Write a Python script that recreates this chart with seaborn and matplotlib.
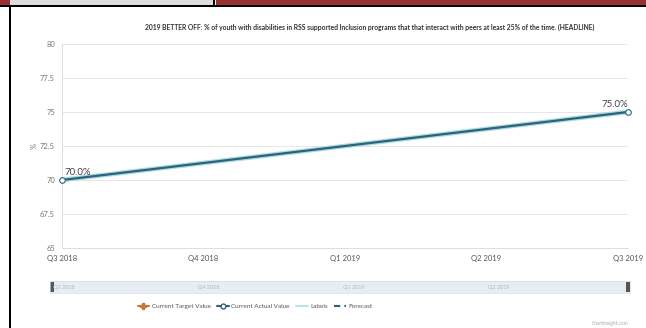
import matplotlib
matplotlib.use("Agg")
import matplotlib.pyplot as plt
import seaborn as sns
import pandas as pd
from matplotlib.lines import Line2D
from matplotlib.patches import Rectangle

quarters = ["Q3 2018", "Q4 2018", "Q1 2019", "Q2 2019", "Q3 2019"]
actual_quarters = ["Q3 2018", "Q3 2019"]
actual_values = [70.0, 75.0]
y_ticks = [65, 67.5, 70, 72.5, 75, 77.5, 80]
y_tick_labels = ["65", "67.5", "70", "72.5", "75", "77.5", "80"]
title = ("2019 BETTER OFF: % of youth with disabilities in RSS supported Inclusion programs "
         "that that interact with peers at least 25% of the time. (HEADLINE)")
legend_labels = ["Current Target Value", "Current Actual Value", "Labels", "Forecast"]

sns.set_theme(style="white")
plt.rcParams['font.family'] = ['Lato', 'DejaVu Sans']

df = pd.DataFrame({
    "pos": [quarters.index(q) for q in actual_quarters],
    "value": actual_values,
})

fig = plt.figure(figsize=(6.46, 3.28), dpi=100)
fig.patch.set_facecolor("white")

# screenshot frame decorations
fig.add_artist(Rectangle((0, 1 - 5/328), 10/646, 5/328, transform=fig.transFigure, color="#9b3030", lw=0))
fig.add_artist(Rectangle((10/646, 1 - 5/328), 204/646, 5/328, transform=fig.transFigure, color="#dcdcdc", lw=0))
fig.add_artist(Rectangle((216/646, 1 - 5/328), 430/646, 5/328, transform=fig.transFigure, color="#9b3030", lw=0))
fig.add_artist(Rectangle((213/646, 1 - 5/328), 2.5/646, 5/328, transform=fig.transFigure, color="black", lw=0))
fig.add_artist(Rectangle((0, 1 - 7/328), 1, 2.5/328, transform=fig.transFigure, color="black", lw=0))
fig.add_artist(Rectangle((8.5/646, 0), 2.5/646, 1 - 5/328, transform=fig.transFigure, color="black", lw=0))

ax = fig.add_axes([62/646, 1 - 248/328, (628 - 62)/646, (248 - 44)/328])

sns.lineplot(data=df, x="pos", y="value", ax=ax, color="#a9dbe6", lw=3.4, zorder=2)
sns.lineplot(data=df, x="pos", y="value", ax=ax, color="#2f6278", lw=1.6,
             marker="o", markersize=4, markerfacecolor="white",
             markeredgecolor="#2f6278", markeredgewidth=0.8, zorder=3)

ax.set_xlim(0, len(quarters) - 1)
ax.set_ylim(65, 80)
ax.set_xticks(range(len(quarters)))
ax.set_xticklabels(quarters, fontsize=5.5, color="#555555")
ax.set_yticks(y_ticks)
ax.set_yticklabels(y_tick_labels, fontsize=5.5, color="#777777")
ax.grid(axis="y", color="#e6e6e6", lw=0.7)
ax.tick_params(axis="both", length=2, color="#cccccc", pad=3)
for s in ["top", "right"]:
    ax.spines[s].set_visible(False)
ax.spines["left"].set_color("#dddddd")
ax.spines["bottom"].set_color("#dddddd")
ax.spines["left"].set_linewidth(0.7)
ax.spines["bottom"].set_linewidth(0.7)
ax.set_xlabel("")
ax.set_ylabel("%", fontsize=5.5, color="#777777", labelpad=2)
for line in ax.lines:
    line.set_clip_on(False)

ax.annotate("70.0%", (0, actual_values[0]), xytext=(2, 2), textcoords="offset points",
            fontsize=7, color="#444444", ha="left", va="bottom")
ax.annotate("75.0%", (len(quarters) - 1, actual_values[1]), xytext=(0, 2), textcoords="offset points",
            fontsize=7, color="#444444", ha="right", va="bottom")

fig.text(370/646, 1 - 27/328, title, ha="center", va="center", fontsize=4.9, fontweight="bold", color="#333333")

# navigator
nav = fig.add_axes([50/646, 1 - 293/328, (630 - 50)/646, 12/328])
nav.set_facecolor("#e8edf5")
nav.set_xlim(0, len(quarters) - 1)
nav.set_ylim(0, 1)
nav.set_xticks([])
nav.set_yticks([])
for s in nav.spines.values():
    s.set_color("#d5dbe6")
    s.set_linewidth(0.5)
for i, q in enumerate(quarters[:-1]):
    nav.text(i + 0.02, 0.5, q, fontsize=4, color="#b0b8c4", va="center", ha="left")
nav.add_patch(Rectangle((0.0, 0.1), 0.025, 0.8, color="#555555", lw=0, clip_on=False))
nav.add_patch(Rectangle((len(quarters) - 1 - 0.025, 0.1), 0.025, 0.8, color="#555555", lw=0, clip_on=False))

# legend
handles = [
    Line2D([], [], color="#c47a3c", lw=1.5, marker="P", markersize=4),
    Line2D([], [], color="#2f6278", lw=1.5, marker="o", markersize=3.5, markerfacecolor="white"),
    Line2D([], [], color="#a9dbe6", lw=1.2),
    Line2D([], [], color="#2f6278", lw=1.5, ls=(0, (3, 2))),
]
fig.legend(handles, legend_labels, loc="center", bbox_to_anchor=(255/646, 1 - 306/328),
           ncol=4, frameon=False, fontsize=4.6, handlelength=1.8, columnspacing=1.0,
           handletextpad=0.4, labelcolor="#555555")

fig.text(628/646, 1 - 323/328, "Chartinsight.com", fontsize=3.5, color="#aaaaaa", ha="right", va="center")

fig.savefig("out.png", dpi=100)
